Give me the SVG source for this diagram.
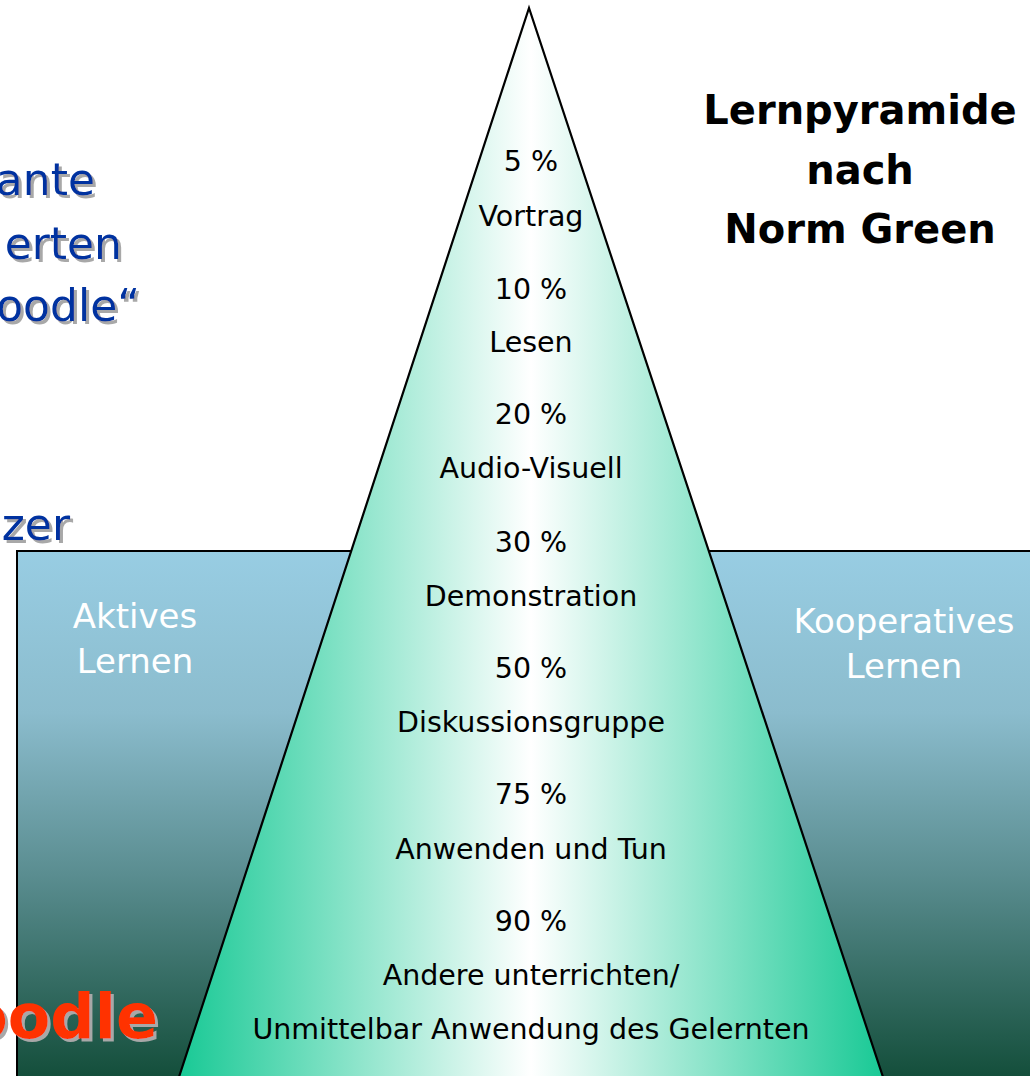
<svg xmlns="http://www.w3.org/2000/svg" width="1030" height="1076" viewBox="0 0 1030 1076">
<defs>
<linearGradient id="bg" x1="0" y1="0" x2="0" y2="1">
<stop offset="0" stop-color="#98cde3"/>
<stop offset="0.3" stop-color="#8bbccd"/>
<stop offset="0.6" stop-color="#5a8d90"/>
<stop offset="1" stop-color="#0f4a35"/>
</linearGradient>
<linearGradient id="pyr" x1="0" y1="0" x2="1" y2="0">
<stop offset="0" stop-color="#18c995"/>
<stop offset="0.5" stop-color="#ffffff"/>
<stop offset="1" stop-color="#18c995"/>
</linearGradient>
<filter id="sh" x="-10%" y="-10%" width="130%" height="140%">
<feFlood flood-color="#a8a8a8"/>
<feComposite in2="SourceAlpha" operator="in"/>
<feOffset dx="3" dy="3" result="s"/>
<feMerge><feMergeNode in="s"/><feMergeNode in="SourceGraphic"/></feMerge>
</filter>
</defs>
<style>
text{font-family:"Comic Sans MS","DejaVu Sans",sans-serif}
.p{font-size:28.5px;fill:#000;text-anchor:middle}
.w{font-size:34px;fill:#fff;text-anchor:middle}
.b{font-size:44px;fill:#0033a0;text-anchor:end}
.t{font-size:40px;font-weight:bold;fill:#000;text-anchor:middle}
</style>
<g id="background">
<rect x="17" y="551" width="1030" height="540" fill="url(#bg)" stroke="#000" stroke-width="2"/>
</g>
<g id="left-texts" filter="url(#sh)">
<text class="b" x="95" y="195">ante</text>
<text class="b" x="122" y="259">erten</text>
<text class="b" x="140" y="321">oodle“</text>
<text class="b" x="70" y="540">zer</text>
<text x="158" y="1038" style="font-size:62px;font-weight:bold;fill:#ff3300;text-anchor:end">oodle</text>
</g>
<g id="aktives">
<text class="w" x="135" y="628">Aktives</text>
<text class="w" x="135" y="673">Lernen</text>
</g>
<g id="kooperatives">
<text class="w" x="904" y="633">Kooperatives</text>
<text class="w" x="904" y="678">Lernen</text>
</g>
<g id="pyramid">
<polygon points="529,8 178,1080 884,1080" fill="url(#pyr)" stroke="#000" stroke-width="2.2"/>
<text class="p" x="531" y="171">5 %</text>
<text class="p" x="531" y="226">Vortrag</text>
<text class="p" x="531" y="299">10 %</text>
<text class="p" x="531" y="352">Lesen</text>
<text class="p" x="531" y="424">20 %</text>
<text class="p" x="531" y="478">Audio-Visuell</text>
<text class="p" x="531" y="552">30 %</text>
<text class="p" x="531" y="606">Demonstration</text>
<text class="p" x="531" y="678">50 %</text>
<text class="p" x="531" y="732">Diskussionsgruppe</text>
<text class="p" x="531" y="804">75 %</text>
<text class="p" x="531" y="859">Anwenden und Tun</text>
<text class="p" x="531" y="931">90 %</text>
<text class="p" x="531" y="985">Andere unterrichten/</text>
<text class="p" x="531" y="1039">Unmittelbar Anwendung des Gelernten</text>
</g>
<g id="title">
<text class="t" x="860" y="124">Lernpyramide</text>
<text class="t" x="860" y="184">nach</text>
<text class="t" x="860" y="243">Norm Green</text>
</g>
</svg>
